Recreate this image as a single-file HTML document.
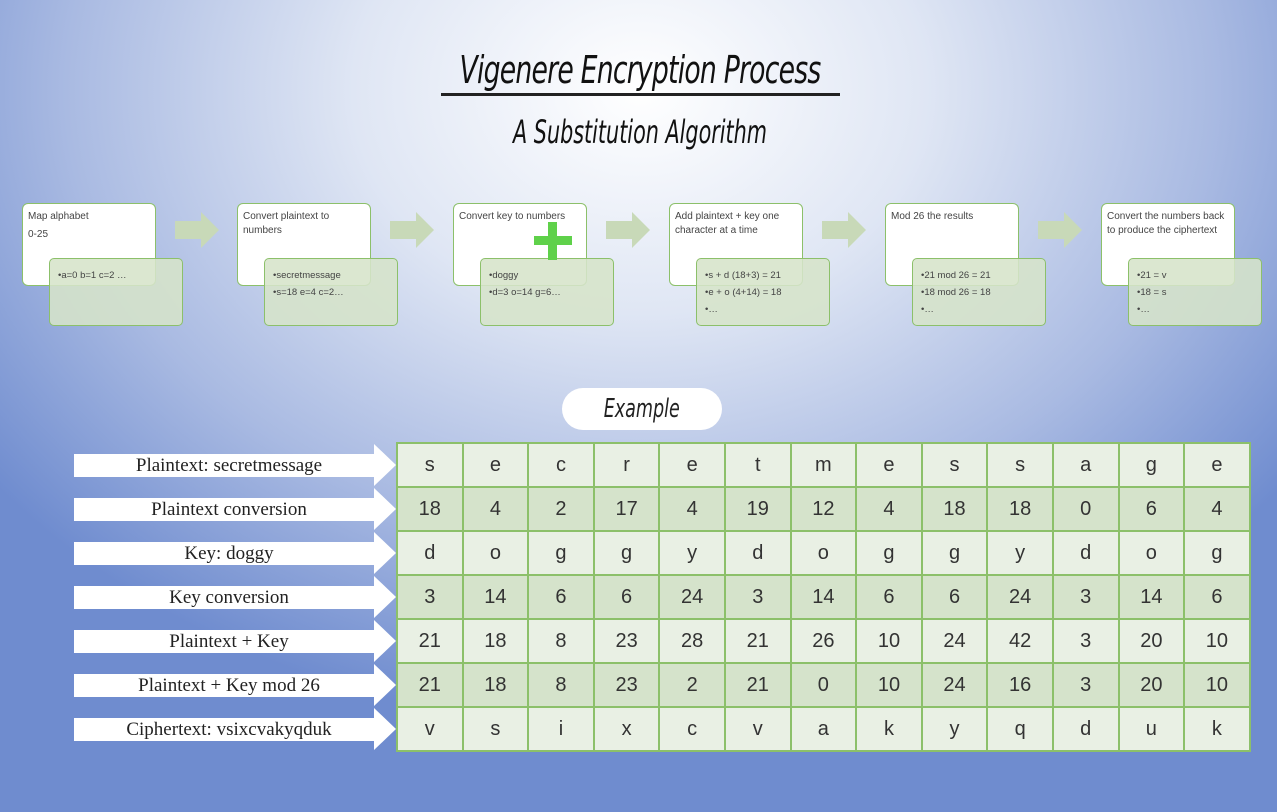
<!DOCTYPE html>
<html><head><style>
*{margin:0;padding:0;box-sizing:border-box}
body{width:1277px;height:812px;overflow:hidden;position:relative;font-family:"Liberation Sans",sans-serif;
background:radial-gradient(ellipse 820px 640px at 640px 90px,#ffffff 0%,#dfe6f4 35%,#a9bae2 70%,#6f8ccf 100%);}
.t1{position:absolute;left:340px;top:48px;width:600px;text-align:center;white-space:nowrap;font:italic 38px "DejaVu Sans Condensed",sans-serif;transform:scaleX(0.78);transform-origin:center;letter-spacing:-1px;color:#111}
.ul{position:absolute;left:441px;top:93px;width:399px;height:3px;background:#222}
.t2{position:absolute;left:390px;top:113px;width:500px;text-align:center;white-space:nowrap;font:italic 32px "DejaVu Sans Condensed",sans-serif;transform:scaleX(0.72);color:#111}
.w{position:absolute;width:134px;height:83px;background:#fff;border:1px solid #8cc06a;border-radius:6px;font-size:10px;color:#444;padding:6px 5px;line-height:14px}
.g{position:absolute;width:134px;height:68px;background:rgba(214,228,201,.88);border:1.5px solid #8cc06a;border-radius:5px;font-size:9.5px;color:#444;padding:8px 8px;line-height:17px}
.ar{position:absolute;width:44px;height:36px}
.pill{position:absolute;left:562px;top:388px;width:160px;height:42px;background:#fff;border-radius:21px;text-align:center;font:italic 26px "DejaVu Sans Condensed",sans-serif;line-height:42px;color:#222}
.pill span{display:inline-block;transform:scaleX(.75)}
table{position:absolute;left:396px;top:442px;border-collapse:collapse}
td{width:65.6px;height:44px;border:2px solid #8cc06a;text-align:center;font-size:20px;color:#333;padding:0}
tr:nth-child(odd) td{background:#e9f0e4}
tr:nth-child(even) td{background:#d5e3cb}
.lab{position:absolute;left:74px;width:322px;height:44px}
.lab div.bar{position:absolute;left:0;top:11px;width:302px;height:23px;background:#fff}
.lab div.head{position:absolute;left:300px;top:1px;width:0;height:0;border-top:21px solid transparent;border-bottom:21px solid transparent;border-left:22px solid #fff}
.lab span{position:absolute;left:0;width:310px;top:11px;text-align:center;font:19px "Liberation Serif",serif;color:#222;line-height:23px}
</style></head><body>
<div class="t1">Vigenere Encryption Process</div>
<div class="ul"></div>
<div class="t2">A Substitution Algorithm</div>

<div class="w" style="left:22px;top:203px">Map alphabet<br><div style="margin-top:4px">0-25</div></div>
<div class="g" style="left:49px;top:258px">•a=0 b=1 c=2 …</div>
<div class="w" style="left:237px;top:203px">Convert plaintext to numbers</div>
<div class="g" style="left:264px;top:258px">•secretmessage<br>•s=18 e=4 c=2…</div>
<div class="w" style="left:453px;top:203px">Convert key to numbers</div>
<div class="g" style="left:480px;top:258px">•doggy<br>•d=3 o=14 g=6…</div>
<div style="position:absolute;left:548px;top:222px;width:9px;height:38px;background:#5fd14a"></div>
<div style="position:absolute;left:534px;top:236px;width:38px;height:9px;background:#5fd14a"></div>
<div class="w" style="left:669px;top:203px">Add plaintext + key one character at a time</div>
<div class="g" style="left:696px;top:258px">•s + d (18+3) = 21<br>•e + o (4+14) = 18<br>•…</div>
<div class="w" style="left:885px;top:203px">Mod 26 the results</div>
<div class="g" style="left:912px;top:258px">•21 mod 26 = 21<br>•18 mod 26 = 18<br>•…</div>
<div class="w" style="left:1101px;top:203px">Convert the numbers back to produce the ciphertext</div>
<div class="g" style="left:1128px;top:258px">•21 = v<br>•18 = s<br>•…</div>

<svg class="ar" style="left:175px;top:212px" viewBox="0 0 44 36"><polygon points="0,9 26,9 26,0 44,18 26,36 26,27 0,27" fill="#c8d9b8"/></svg>
<svg class="ar" style="left:390px;top:212px" viewBox="0 0 44 36"><polygon points="0,9 26,9 26,0 44,18 26,36 26,27 0,27" fill="#c8d9b8"/></svg>
<svg class="ar" style="left:606px;top:212px" viewBox="0 0 44 36"><polygon points="0,9 26,9 26,0 44,18 26,36 26,27 0,27" fill="#c8d9b8"/></svg>
<svg class="ar" style="left:822px;top:212px" viewBox="0 0 44 36"><polygon points="0,9 26,9 26,0 44,18 26,36 26,27 0,27" fill="#c8d9b8"/></svg>
<svg class="ar" style="left:1038px;top:212px" viewBox="0 0 44 36"><polygon points="0,9 26,9 26,0 44,18 26,36 26,27 0,27" fill="#c8d9b8"/></svg>

<div class="pill"><span>Example</span></div>

<div class="lab" style="top:443px"><div class="bar"></div><div class="head"></div><span>Plaintext: secretmessage</span></div>
<div class="lab" style="top:487px"><div class="bar"></div><div class="head"></div><span>Plaintext conversion</span></div>
<div class="lab" style="top:531px"><div class="bar"></div><div class="head"></div><span>Key: doggy</span></div>
<div class="lab" style="top:575px"><div class="bar"></div><div class="head"></div><span>Key conversion</span></div>
<div class="lab" style="top:619px"><div class="bar"></div><div class="head"></div><span>Plaintext + Key</span></div>
<div class="lab" style="top:663px"><div class="bar"></div><div class="head"></div><span>Plaintext + Key mod 26</span></div>
<div class="lab" style="top:707px"><div class="bar"></div><div class="head"></div><span>Ciphertext: vsixcvakyqduk</span></div>

<table>
<tr><td>s</td><td>e</td><td>c</td><td>r</td><td>e</td><td>t</td><td>m</td><td>e</td><td>s</td><td>s</td><td>a</td><td>g</td><td>e</td></tr>
<tr><td>18</td><td>4</td><td>2</td><td>17</td><td>4</td><td>19</td><td>12</td><td>4</td><td>18</td><td>18</td><td>0</td><td>6</td><td>4</td></tr>
<tr><td>d</td><td>o</td><td>g</td><td>g</td><td>y</td><td>d</td><td>o</td><td>g</td><td>g</td><td>y</td><td>d</td><td>o</td><td>g</td></tr>
<tr><td>3</td><td>14</td><td>6</td><td>6</td><td>24</td><td>3</td><td>14</td><td>6</td><td>6</td><td>24</td><td>3</td><td>14</td><td>6</td></tr>
<tr><td>21</td><td>18</td><td>8</td><td>23</td><td>28</td><td>21</td><td>26</td><td>10</td><td>24</td><td>42</td><td>3</td><td>20</td><td>10</td></tr>
<tr><td>21</td><td>18</td><td>8</td><td>23</td><td>2</td><td>21</td><td>0</td><td>10</td><td>24</td><td>16</td><td>3</td><td>20</td><td>10</td></tr>
<tr><td>v</td><td>s</td><td>i</td><td>x</td><td>c</td><td>v</td><td>a</td><td>k</td><td>y</td><td>q</td><td>d</td><td>u</td><td>k</td></tr>
</table>
</body></html>
